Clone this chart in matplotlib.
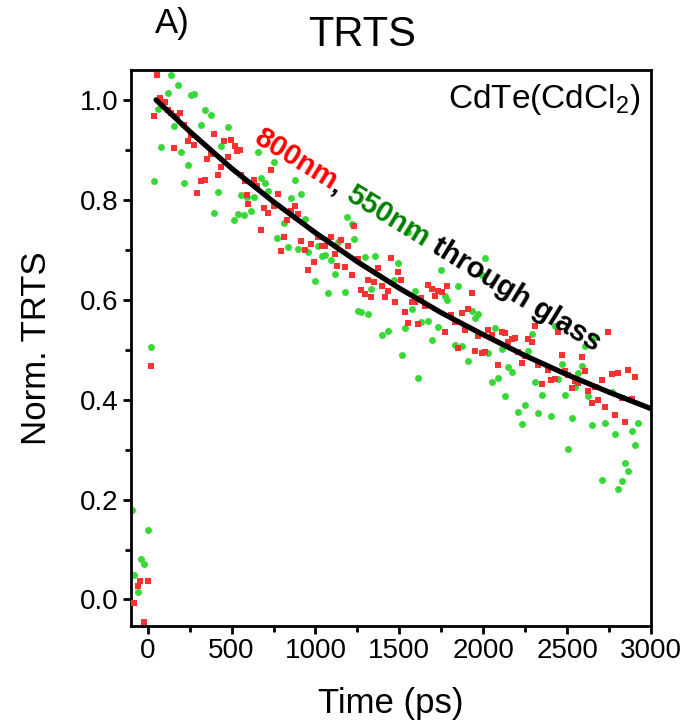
import numpy as np
import matplotlib
matplotlib.use('Agg')
import matplotlib.pyplot as plt
from matplotlib.ticker import MultipleLocator, FormatStrFormatter
from matplotlib.transforms import offset_copy

plt.rcParams['font.family'] = ['Liberation Sans', 'DejaVu Sans']
plt.rcParams['mathtext.fontset'] = 'custom'
plt.rcParams['mathtext.rm'] = 'Liberation Sans'
plt.rcParams['mathtext.default'] = 'regular'

# 800 nm pump (red squares)
red_t = [-82, -60, -44, -22, 0, 20,
         36, 58, 76, 101, 121, 141, 159, 175, 195, 217, 240, 260, 274, 296,
         318, 340, 356, 376, 398, 417, 434, 457, 477, 499, 519, 535, 549, 559,
         579, 592, 595, 632, 654, 674, 694, 718, 734, 753, 775, 797, 813, 833,
         853, 877, 897, 912, 936, 956, 972, 994, 1016, 1036, 1056, 1075, 1095,
         1115, 1131, 1155, 1175, 1191, 1215, 1231, 1254, 1270, 1294, 1314, 1334,
         1350, 1372, 1394, 1413, 1430, 1449, 1473, 1493, 1509, 1533, 1553, 1573,
         1592, 1612, 1632, 1652, 1670, 1692, 1712, 1731, 1752, 1771, 1787, 1807,
         1831, 1851, 1871, 1891, 1910, 1931, 1950, 1966, 1990, 2010, 2030, 2050,
         2089, 2110, 2129, 2149, 2169, 2189, 2209, 2229, 2248, 2268, 2288, 2308,
         2328, 2348, 2387, 2407, 2427, 2447, 2467, 2487, 2507, 2527, 2547, 2567,
         2587, 2606, 2626, 2646, 2666, 2686, 2706, 2725, 2745, 2765, 2785, 2805,
         2825, 2845, 2865, 2884, 2904]
red_v = [-0.007, 0.027, 0.037, -0.045, 0.038, 0.467,
         0.967, 1.049, 1.003, 0.995, 0.980, 0.973, 0.903, 0.967, 0.973, 0.949, 0.918, 0.930, 0.909, 0.813,
         0.838, 0.840, 0.882, 0.891, 0.931, 0.850, 0.865, 0.917, 0.886, 0.920, 0.907, 0.898, 0.899, 0.850,
         0.837, 0.810, 0.791, 0.839, 0.828, 0.740, 0.783, 0.773, 0.860, 0.787, 0.811, 0.697, 0.725, 0.760,
         0.777, 0.788, 0.772, 0.717, 0.700, 0.659, 0.712, 0.675, 0.725, 0.708, 0.707, 0.720, 0.725,
         0.691, 0.668, 0.719, 0.665, 0.707, 0.650, 0.747, 0.681, 0.620, 0.612, 0.639, 0.605,
         0.635, 0.663, 0.628, 0.605, 0.617, 0.683, 0.595, 0.655, 0.640, 0.575, 0.553, 0.595,
         0.595, 0.552, 0.603, 0.587, 0.629, 0.621, 0.607, 0.617, 0.615, 0.535, 0.628, 0.569,
         0.555, 0.503, 0.573, 0.540, 0.581, 0.613, 0.497, 0.527, 0.493, 0.495, 0.539, 0.530,
         0.470, 0.535, 0.533, 0.515, 0.521, 0.523, 0.495, 0.473, 0.487, 0.521, 0.515, 0.548,
         0.470, 0.432, 0.459, 0.439, 0.441, 0.535, 0.490, 0.457, 0.450, 0.423, 0.437, 0.433,
         0.485, 0.457, 0.417, 0.393, 0.425, 0.399, 0.439, 0.385, 0.535, 0.451, 0.370, 0.453,
         0.403, 0.355, 0.460, 0.401, 0.445]

# 550 nm pump through glass (green circles)
green_t = [-94, -82, -60, -42, -22, 0, 20,
           38, 62, 78, 119, 137, 157, 179, 199, 219, 239, 260, 276, 318, 340,
           378, 398, 417, 435, 477, 517, 537, 559, 574, 592, 616, 634, 658, 678,
           698, 718, 755, 773, 813, 837, 853, 877, 897, 914, 936, 956, 996, 1016,
           1036, 1056, 1075, 1095, 1115, 1135, 1175, 1189, 1215, 1231, 1254, 1274,
           1294, 1314, 1334, 1352, 1394, 1433, 1469, 1493, 1513, 1533, 1553, 1573,
           1592, 1612, 1632, 1672, 1692, 1731, 1751, 1771, 1785, 1831, 1851, 1871,
           1910, 1931, 1950, 1970, 1990, 2010, 2030, 2050, 2069, 2089, 2110, 2129,
           2149, 2169, 2209, 2229, 2248, 2268, 2288, 2308, 2328, 2348, 2407, 2427,
           2447, 2467, 2487, 2507, 2527, 2547, 2567, 2587, 2606, 2626, 2646, 2666,
           2706, 2725, 2765, 2785, 2805, 2825, 2845, 2865, 2884, 2904, 2924]
green_v = [0.180, 0.049, 0.014, 0.081, 0.071, 0.140, 0.505,
           0.837, 0.982, 0.905, 1.013, 1.049, 0.947, 1.029, 0.895, 0.833, 0.869, 1.009, 1.011, 0.949, 0.980,
           0.969, 0.773, 0.815, 0.907, 0.946, 0.759, 0.771, 0.809, 0.770, 0.805, 0.777, 0.805, 0.895, 0.843,
           0.833, 0.817, 0.875, 0.723, 0.753, 0.705, 0.803, 0.839, 0.702, 0.812, 0.761, 0.695, 0.638, 0.708,
           0.688, 0.690, 0.613, 0.679, 0.652, 0.715, 0.615, 0.765, 0.752, 0.722, 0.578, 0.575,
           0.685, 0.571, 0.621, 0.687, 0.529, 0.537, 0.639, 0.673, 0.490, 0.543, 0.735, 0.582,
           0.617, 0.443, 0.555, 0.557, 0.519, 0.545, 0.659, 0.608, 0.600, 0.510, 0.627, 0.508,
           0.477, 0.577, 0.563, 0.572, 0.650, 0.683, 0.493, 0.435, 0.543, 0.443, 0.501, 0.408,
           0.465, 0.455, 0.375, 0.352, 0.390, 0.497, 0.532, 0.435, 0.373, 0.410, 0.368, 0.548,
           0.441, 0.472, 0.410, 0.302, 0.363, 0.425, 0.453, 0.467, 0.507, 0.408, 0.350, 0.525,
           0.239, 0.353, 0.415, 0.332, 0.222, 0.238, 0.273, 0.257, 0.337, 0.309, 0.353]

# exponential fit curve
fit_t = [50, 250, 500, 750, 1000, 1250, 1500, 1750, 2000, 2250, 2500, 2750, 3000]
fit_v = [1.000, 0.937, 0.863, 0.796, 0.734, 0.676, 0.623, 0.574, 0.530, 0.488, 0.450, 0.415, 0.382]

x_ticks = [0, 500, 1000, 1500, 2000, 2500, 3000]
y_ticks = [0.0, 0.2, 0.4, 0.6, 0.8, 1.0]

fig = plt.figure(figsize=(6.82, 7.24), dpi=100)
ax = fig.add_axes([0.192, 0.1354, 0.7625, 0.768])

ax.plot(green_t, green_v, 'o', color='#38d838', ms=5.0, mew=0, zorder=2)
ax.plot(red_t, red_v, 's', color='#f83232', ms=4.6, mew=0, zorder=3)
ax.plot(fit_t, fit_v, '-', color='black', lw=3.8, solid_capstyle='round', zorder=4)

ax.set_xlim(-100, 3000)
ax.set_ylim(-0.053, 1.06)
ax.set_xticks(x_ticks)
ax.set_yticks(y_ticks)
ax.xaxis.set_minor_locator(MultipleLocator(250))
ax.yaxis.set_minor_locator(MultipleLocator(0.1))
ax.yaxis.set_major_formatter(FormatStrFormatter('%.1f'))
ax.tick_params(which='both', direction='out', width=2, labelsize=20, top=False, right=False)
ax.tick_params(which='major', length=6, pad=3)
ax.tick_params(which='minor', length=4)
for sp in ax.spines.values():
    sp.set_linewidth(2)

ax.set_xlabel('Time (ps)', fontsize=25)
ax.xaxis.set_label_coords(0.5, -0.11)
ax.set_ylabel('Norm. TRTS', fontsize=25)
ax.yaxis.set_label_coords(-0.15, 0.5)

fig.text(0.531, 0.952, 'TRTS', ha='center', va='center', fontsize=30)
fig.text(0.252, 0.968, 'A)', ha='center', va='center', fontsize=25)
ax.text(0.979, 0.932, 'CdTe(CdCl$_2$)', transform=ax.transAxes,
        ha='right', va='baseline', fontsize=24)

# rotated label in three colours, pieces laid end to end
parts = [('800nm', '#ff0000'), (', ', 'black'), ('550nm', '#008000'), (' through glass', 'black')]
angle = -31.5
renderer = fig.canvas.get_renderer()
dist = 0.0
for s, c in parts:
    probe = ax.text(0, 0, s, fontsize=21, fontweight='bold')
    w = probe.get_window_extent(renderer).width
    probe.remove()
    ox = dist * np.cos(np.radians(angle))
    oy = dist * np.sin(np.radians(angle))
    tr = offset_copy(ax.transData, fig=fig, x=ox, y=oy, units='dots')
    ax.text(620, 0.915, s, transform=tr, rotation=angle, rotation_mode='anchor',
            ha='left', va='baseline', fontsize=21, fontweight='bold', color=c, zorder=5)
    dist += w

fig.savefig('out.png', dpi=100)
